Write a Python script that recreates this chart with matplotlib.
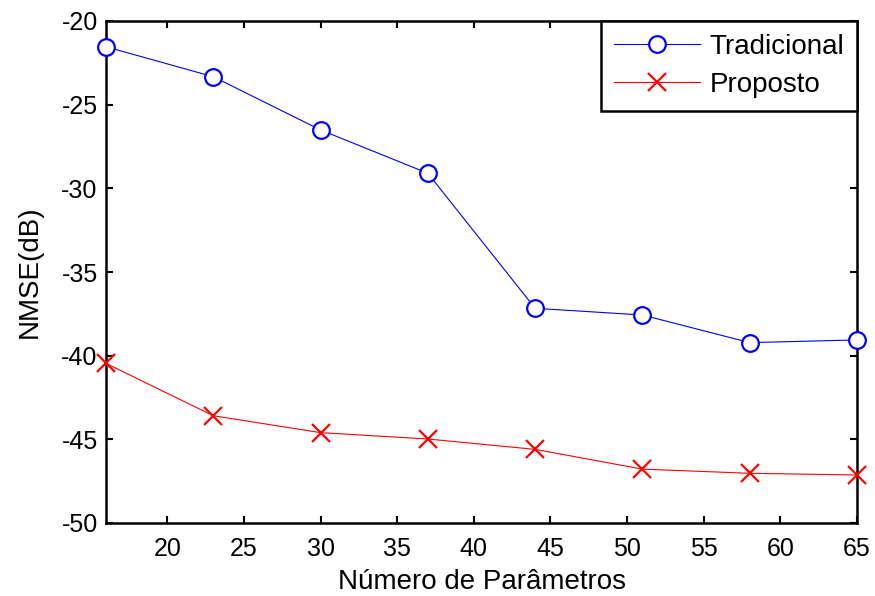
import matplotlib
matplotlib.use('Agg')
import matplotlib.pyplot as plt

plt.rcParams['font.family'] = ['Liberation Sans', 'DejaVu Sans']
plt.rcParams['axes.unicode_minus'] = False

num_params = [16, 23, 30, 37, 44, 51, 58, 65]
tradicional = [-21.54, -23.33, -26.51, -29.10, -37.17, -37.57, -39.22, -39.06]
proposto = [-40.46, -43.59, -44.60, -44.98, -45.60, -46.78, -47.03, -47.13]

fig = plt.figure(figsize=(8.75, 5.96), dpi=100)
ax = fig.add_axes([106 / 875, 1 - 523 / 596, (857 - 106) / 875, (523 - 21) / 596])

ax.plot(num_params, tradicional, color='blue', linewidth=0.8, marker='o',
        markersize=12, markerfacecolor='white', markeredgecolor='blue',
        markeredgewidth=1.6, label='Tradicional', clip_on=False, zorder=3)
ax.plot(num_params, proposto, color='red', linewidth=0.8, marker='x',
        markersize=13, markeredgewidth=1.6, label='Proposto', clip_on=False, zorder=3)

ax.set_xlim(16, 65)
ax.set_ylim(-50, -20)
ax.set_xticks(range(20, 66, 5))
ax.set_yticks(range(-50, -19, 5))

ax.tick_params(direction='in', top=True, right=True, length=5, width=1.5,
               labelsize=18)
ax.tick_params(axis='x', pad=10)
ax.tick_params(axis='y', pad=6)
for spine in ax.spines.values():
    spine.set_linewidth(1.8)

ax.set_xlabel('Número de Parâmetros', fontsize=20, labelpad=6)
ax.set_ylabel('NMSE(dB)', fontsize=20, labelpad=13)

leg = ax.legend(loc='upper right', fontsize=20, frameon=True, fancybox=False,
                framealpha=1, borderaxespad=0, handlelength=3.1,
                handletextpad=0.35, borderpad=0.45, labelspacing=0.45)
leg.get_frame().set_edgecolor('black')
leg.get_frame().set_linewidth(1.8)

fig.savefig('out.png', dpi=100)
